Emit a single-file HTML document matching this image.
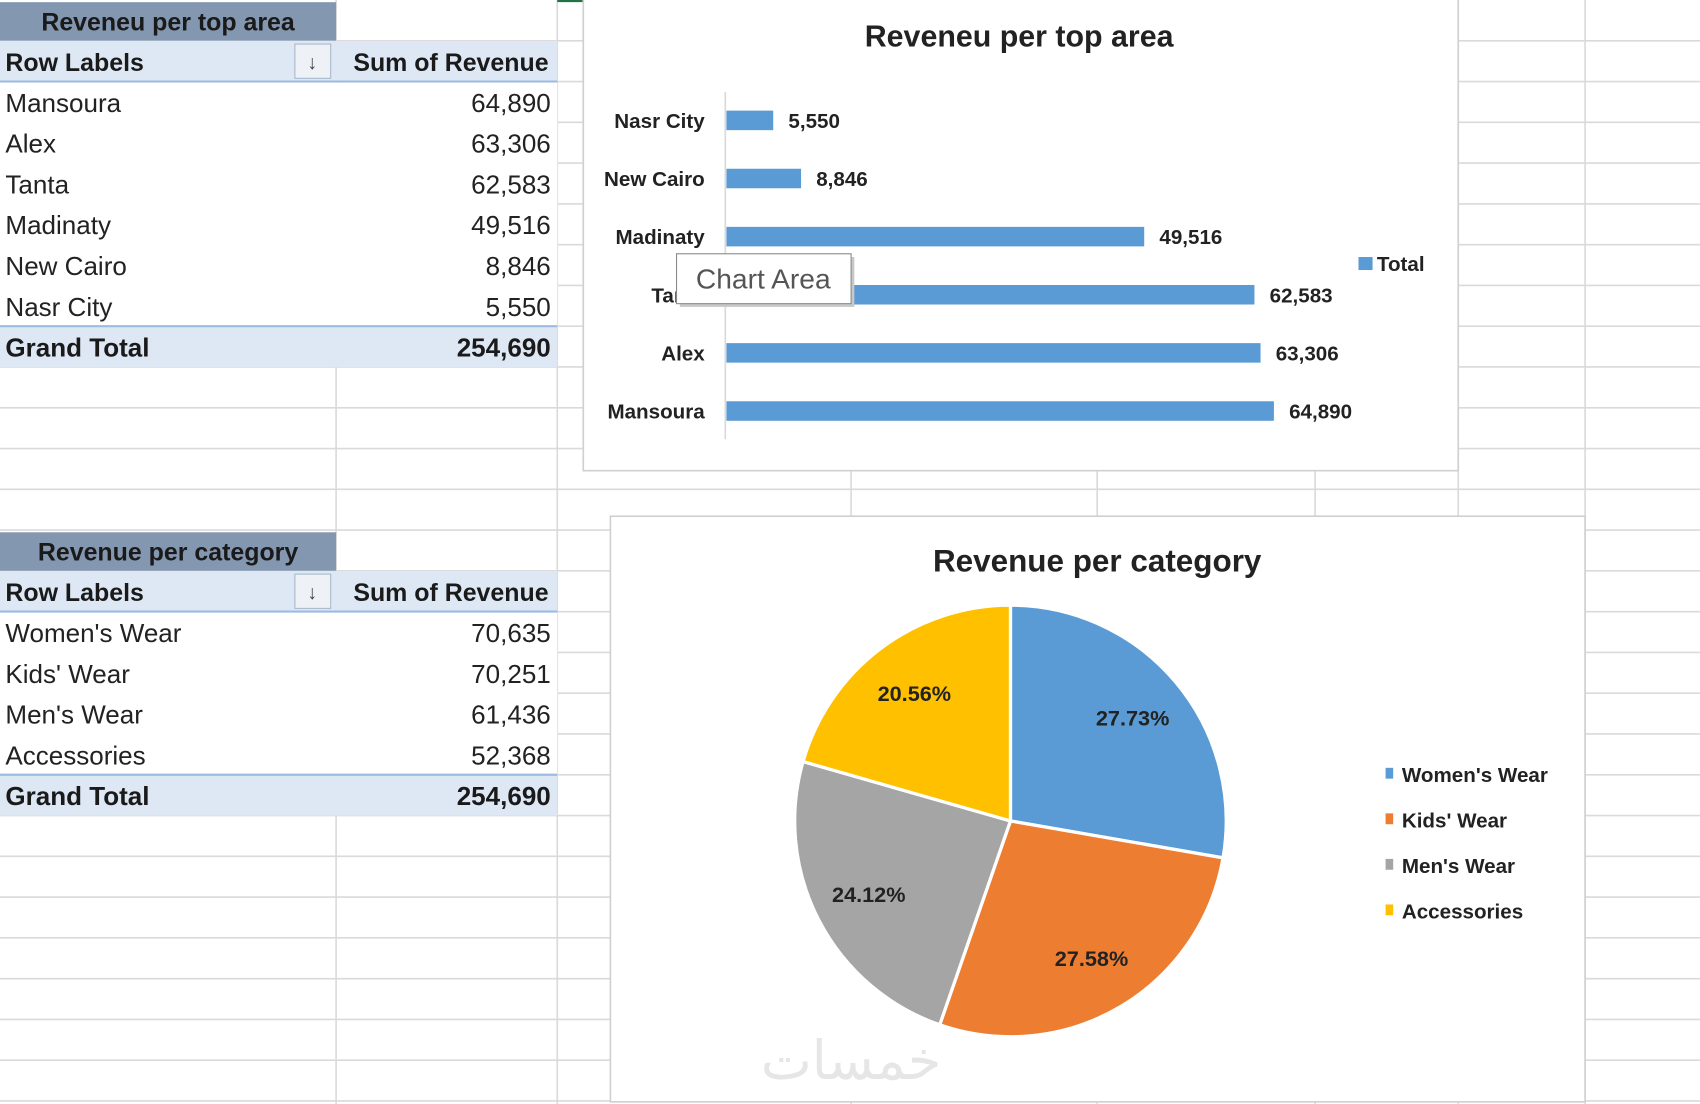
<!DOCTYPE html>
<html><head><meta charset="utf-8"><style>
html,body{margin:0;padding:0;background:#fff;overflow:hidden}
svg{display:block}
text{font-family:"Liberation Sans","DejaVu Sans",sans-serif}
</style></head><body>
<svg id="s" width="1700" height="1104" viewBox="0 0 1568 1018" preserveAspectRatio="none" xmlns="http://www.w3.org/2000/svg">
<g id="grid"></g>
<line x1="514" y1="1" x2="785" y2="1" stroke="#217346" stroke-width="2"/>
<g id="tables"></g>
<g id="bar"></g>
<g id="pie"></g>
</svg>
<script>
// Table / chart data
const areaNames = ["Mansoura","Alex","Tanta","Madinaty","New Cairo","Nasr City"];
const areaRevenue = [64890,63306,62583,49516,8846,5550];
const areaTotal = 254690;
const barOrder = ["Nasr City","New Cairo","Madinaty","Tanta","Alex","Mansoura"];
const barValues = [5550,8846,49516,62583,63306,64890];
const catNames = ["Women's Wear","Kids' Wear","Men's Wear","Accessories"];
const catRevenue = [70635,70251,61436,52368];
const catTotal = 254690;
const catColors = ["#5b9bd5","#ed7d31","#a5a5a5","#ffc000"];

const NS="http://www.w3.org/2000/svg";
function mk(parent,tag,attrs,txt){const e=document.createElementNS(NS,tag);for(const k in attrs)e.setAttribute(k,attrs[k]);if(txt!==undefined)e.textContent=txt;parent.appendChild(e);return e;}
const fmt=v=>v.toLocaleString('en-US');

// grid
const grid=document.getElementById('grid');
const RH=37.6;
for(let i=1;i<=27;i++){const l=mk(grid,'line',{x1:0,x2:1568,y1:i*RH,y2:i*RH,stroke:'#dadada','stroke-width':1.5});

}
[310,514,785,1012,1213,1345,1462].forEach(x=>{const l=mk(grid,'line',{x1:x,x2:x,y1:0,y2:1018,stroke:'#dadada','stroke-width':1.5});

});

// pivot tables
const tg=document.getElementById('tables');
function table(y0,title,names,vals,tot){
  const g=mk(tg,'g',{});
  
  
  mk(g,'rect',{x:0,y:y0+2,width:310,height:RH-2,fill:'#8497b0'});
  const t=mk(g,'text',{x:155,y:y0+28,'text-anchor':'middle','font-size':23,'font-weight':'bold',fill:'#1a1a1a'},title);
  
  
  const hy=y0+RH;
  mk(g,'rect',{x:0,y:hy,width:514,height:RH,fill:'#dde8f4'});
  mk(g,'line',{x1:0,x2:514,y1:hy+RH,y2:hy+RH,stroke:'#9dbbe0','stroke-width':2});
  mk(g,'text',{x:5,y:hy+28,'font-size':23,'font-weight':'bold',fill:'#1a1a1a'},"Row Labels");
  mk(g,'text',{x:506,y:hy+28,'text-anchor':'end','font-size':23,'font-weight':'bold',fill:'#1a1a1a'},"Sum of Revenue");
  const fb=mk(g,'rect',{x:272,y:hy+3,width:33,height:RH-6,fill:'#eef2f7',stroke:'#a8b8cc'});
  
  
  mk(g,'text',{x:288,y:hy+26,'text-anchor':'middle','font-size':18,fill:'#444'},"↓");
  mk(g,'rect',{x:0,y:hy+RH+1,width:514,height:names.length*RH-1,fill:'#fff'});
  names.forEach((n,i)=>{
    const y=hy+RH*(i+1)+28;
    const a=mk(g,'text',{x:5,y:y,'font-size':24,fill:'#222'},n);
    
    
    const b=mk(g,'text',{x:508,y:y,'text-anchor':'end','font-size':24,fill:'#222'},fmt(vals[i]));
    
    
  });
  const gy=hy+RH*(names.length+1);
  mk(g,'rect',{x:0,y:gy,width:514,height:RH,fill:'#dde8f4'});
  mk(g,'line',{x1:0,x2:514,y1:gy,y2:gy,stroke:'#9dbbe0','stroke-width':2});
  mk(g,'text',{x:5,y:gy+28,'font-size':24,'font-weight':'bold',fill:'#1a1a1a'},"Grand Total");
  mk(g,'text',{x:508,y:gy+28,'text-anchor':'end','font-size':24,'font-weight':'bold',fill:'#1a1a1a'},fmt(tot));
}
table(0,"Reveneu per top area",areaNames,areaRevenue,areaTotal);
table(RH*13,"Revenue per category",catNames,catRevenue,catTotal);

// bar chart
const bg=document.getElementById('bar');
mk(bg,'rect',{x:538,y:-2,width:807,height:436,fill:'#fff',stroke:'#d0d0d0','stroke-width':1.5});
const bt=mk(bg,'text',{x:940,y:43,'text-anchor':'middle','font-size':28,'font-weight':'bold',fill:'#222'},"Reveneu per top area");


const x0=670, xScale=v=>x0+v*505/64890;
const yBand=i=>111+i*53.6;
mk(bg,'line',{x1:669,x2:669,y1:85,y2:405,stroke:'#d9d9d9','stroke-width':1.5});
barOrder.forEach((n,i)=>{
  const y=yBand(i);
  const r=mk(bg,'rect',{x:x0,y:y-9,width:xScale(barValues[i])-x0,height:18,fill:'#5b9bd5'});
  
  
  const l=mk(bg,'text',{x:650,y:y+7,'text-anchor':'end','font-size':19,'font-weight':'bold',fill:'#222'},n);
  
  
  const v=mk(bg,'text',{x:xScale(barValues[i])+14,y:y+7,'font-size':19,'font-weight':'bold',fill:'#222'},fmt(barValues[i]));
  
  
});
mk(bg,'rect',{x:1253,y:237,width:13,height:12,fill:'#5b9bd5'});
const lt=mk(bg,'text',{x:1270,y:250,'font-size':19,'font-weight':'bold',fill:'#222'},"Total");


const tip=mk(bg,'g',{});


mk(tip,'rect',{x:627,y:237,width:161,height:46,fill:'#c8c8c8'});
mk(tip,'rect',{x:624,y:234,width:161,height:46,fill:'#fff',stroke:'#8a8a8a'});
mk(tip,'text',{x:704,y:266,'text-anchor':'middle','font-size':26,fill:'#555'},"Chart Area");

// pie chart
const pg=document.getElementById('pie');
mk(pg,'rect',{x:563,y:476,width:899,height:540,fill:'#fff',stroke:'#d0d0d0','stroke-width':1.5});
const pt=mk(pg,'text',{x:1012,y:527,'text-anchor':'middle','font-size':29,'font-weight':'bold',fill:'#222'},"Revenue per category");


const cx=932,cy=757,R=199;
const total=catRevenue.reduce((a,b)=>a+b,0);
let acc=0;
catRevenue.forEach((v,i)=>{
  const a0=acc/total*2*Math.PI; acc+=v; const a1=acc/total*2*Math.PI;
  const p=(a)=>[cx+R*Math.sin(a),cy-R*Math.cos(a)];
  const [sx,sy]=p(a0),[ex,ey]=p(a1);
  const large=(a1-a0)>Math.PI?1:0;
  const s=mk(pg,'path',{d:`M${cx},${cy} L${sx},${sy} A${R},${R} 0 ${large} 1 ${ex},${ey} Z`,fill:catColors[i],stroke:'#fff','stroke-width':3});
  
  
  const m=(a0+a1)/2, lr=R*0.74;
  const t=mk(pg,'text',{x:cx+lr*Math.sin(m),y:cy-lr*Math.cos(m)+7,'text-anchor':'middle','font-size':20,'font-weight':'bold',fill:'#222'},(v/total*100).toFixed(2)+'%');
  
  
  const ly=714+i*42;
  mk(pg,'rect',{x:1278,y:ly-6,width:7,height:10,fill:catColors[i]});
  const lt=mk(pg,'text',{x:1293,y:ly+7,'font-size':19,'font-weight':'bold',fill:'#222'},catNames[i]);
  
  
});
const wm=mk(pg,'text',{x:785,y:995,'text-anchor':'middle','font-size':50,fill:'#e6e6e6','font-family':'"DejaVu Sans",sans-serif'},"خمسات");


</script>
</body></html>
